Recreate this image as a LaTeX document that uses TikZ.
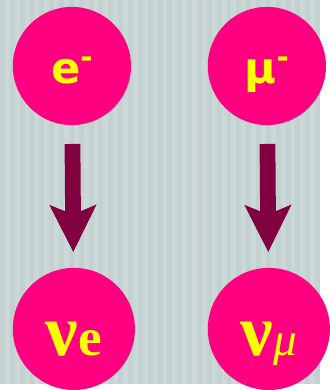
\documentclass[tikz,border=0pt]{standalone}
\usepackage{fontspec}
\setmainfont{Liberation Serif}
\newfontfamily\ballsans{DejaVu Sans Bold}
\usetikzlibrary{arrows.meta}
\definecolor{bggray}{RGB}{204,216,216}
\definecolor{bgstripe}{RGB}{196,209,209}
\definecolor{ballpink}{RGB}{255,0,128}
\definecolor{ballyellow}{RGB}{255,255,0}
\definecolor{arrowred}{RGB}{128,0,64}
\newcommand{\minussup}{\raisebox{16pt}{\fontsize{30}{30}\selectfont -}}

\begin{document}
\begin{tikzpicture}[x=1pt, y=-1pt,
    ball/.style={circle, fill=ballpink, minimum size=#1, inner sep=0pt,
      text=ballyellow, text depth=0pt},
    ball/.default=120pt,
    lepton/.style={font=\ballsans\fontsize{44}{44}\selectfont, text height=36pt},
    neutrino/.style={font=\bfseries\fontsize{74}{74}\selectfont, text height=54pt},
    decay/.style={draw=arrowred, line width=16pt,
      -{Stealth[length=48pt, width=48pt, inset=10pt, line width=0pt]},
      shorten <=19pt, shorten >=16pt}]
  % striped background
  \fill[bggray] (0,0) rectangle (325,390);
  \foreach \x in {0,10,...,320}
    \fill[bgstripe] (\x,0) rectangle ++(5,390);

  % charged leptons
  \node[ball, lepton] (e) at (73,67) {e\minussup};
  \node[ball, lepton] (mu) at (271,67) {μ\minussup};

  % neutrinos
  \node[ball=124pt, neutrino] (nue) at (75,334)
    {ν{\fontsize{54}{54}\selectfont e}};
  \node[ball=124pt, neutrino] (numu) at (273,334)
    {ν{\mdseries\itshape\fontsize{48}{48}\selectfont μ}};

  % decays
  \draw[decay] (e) -- (nue);
  \draw[decay] (mu) -- (numu);
\end{tikzpicture}
\end{document}
